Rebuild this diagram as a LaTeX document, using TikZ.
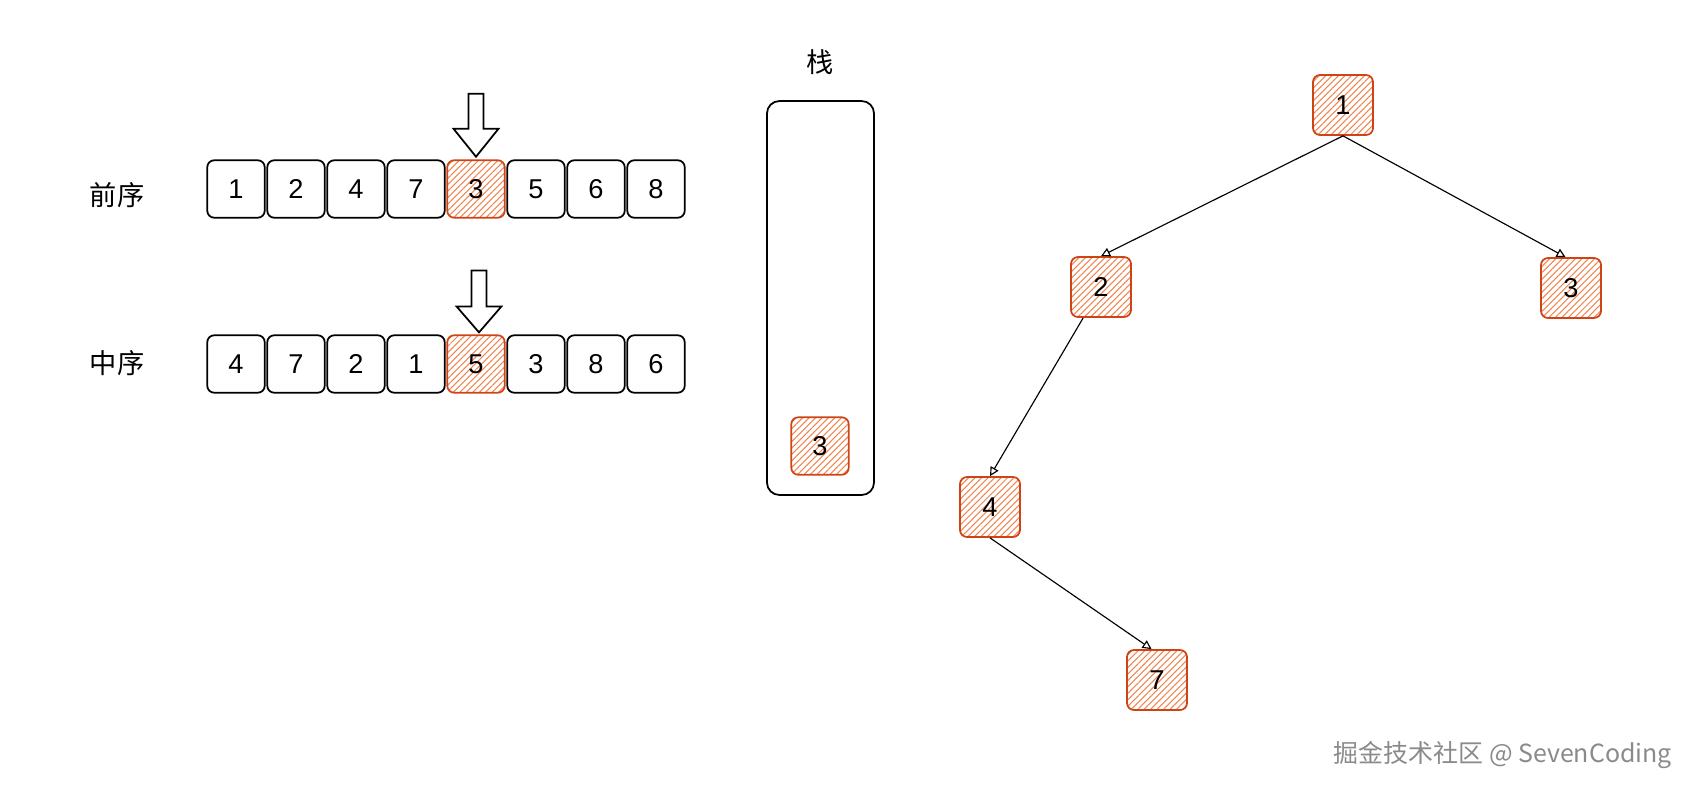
\documentclass[tikz,border=0pt]{standalone}
\usepackage{fontspec}
\setmainfont{Liberation Sans}
\newfontfamily\cjk{Noto Sans CJK SC}
\usepackage{tikz}
\usetikzlibrary{arrows.meta,positioning,calc,patterns.meta}
\definecolor{hotline}{HTML}{CF4416}
\definecolor{hatch}{HTML}{EE8550}
\definecolor{markgray}{HTML}{8A8A8A}

\begin{document}
\begin{tikzpicture}[x=0.02cm, y=-0.02cm,
  cell/.style={draw, line width=1pt, rounded corners=4pt, minimum width=1.15cm, minimum height=1.15cm, font=\fontsize{15.5}{18}\selectfont, inner sep=0pt},
  hot/.style={cell, draw=hotline, pattern={Lines[angle=45,distance=2.6pt,line width=0.6pt]}, pattern color=hatch},
  tnode/.style={hot, minimum width=1.2cm, minimum height=1.2cm},
  lbl/.style={font=\cjk\fontsize{15.5}{18}\selectfont},
  stack/.style={draw, line width=1pt, rounded corners=7pt, minimum width=2.14cm, minimum height=7.88cm},
  blk/.style={draw, line width=1pt, fill=white, line join=miter},
  edge/.style={draw, line width=0.65pt, -{Triangle[open,length=0.18cm,width=0.18cm]}}
]
\useasboundingbox (0,0) rectangle (1699,794);

% labels
\node[lbl] (pre) at (117,195) {前序};
\node[lbl] (mid) at (117,363) {中序};
\node[lbl] (stk) at (820,62) {栈};

% preorder row
\node[cell] (a1) at (236,189) {1};
\node[cell] (a2) at (296,189) {2};
\node[cell] (a3) at (356,189) {4};
\node[cell] (a4) at (416,189) {7};
\node[hot]  (a5) at (476,189) {3};
\node[cell] (a6) at (536,189) {5};
\node[cell] (a7) at (596,189) {6};
\node[cell] (a8) at (656,189) {8};

% inorder row
\node[cell] (b1) at (236,364) {4};
\node[cell] (b2) at (296,364) {7};
\node[cell] (b3) at (356,364) {2};
\node[cell] (b4) at (416,364) {1};
\node[hot]  (b5) at (476,364) {5};
\node[cell] (b6) at (536,364) {3};
\node[cell] (b7) at (596,364) {8};
\node[cell] (b8) at (656,364) {6};

% pointers
\draw[blk, shift={(a5.north)}] (0,-3) -- (-22.5,-31) -- (-7.5,-31) -- (-7.5,-66) -- (7.5,-66) -- (7.5,-31) -- (22.5,-31) -- cycle;
\draw[blk, shift={(b5.north)}] (3,-2) -- (-19.5,-28) -- (-4.5,-28) -- (-4.5,-64) -- (10.5,-64) -- (10.5,-28) -- (25.5,-28) -- cycle;

% stack
\node[stack] (st) at (820.5,298) {};
\node[hot] (s1) at (820,446) {3};

% tree
\node[tnode] (n1) at (1343,105) {1};
\node[tnode] (n2) at (1101,287) {2};
\node[tnode] (n3) at (1571,288) {3};
\node[tnode] (n4) at (990,507) {4};
\node[tnode] (n7) at (1157,680) {7};

\draw[edge] (n1.south) -- (n2.north);
\draw[edge] (n1.south) -- (n3.100);
\draw[edge] (n2.240) -- (n4.north);
\draw[edge] (n4.south) -- (n7.100);

% watermark
\node[anchor=east, text=markgray, font=\cjk\fontsize{14.2}{16}\selectfont] (wm) at (1678,755) {掘金技术社区 @ SevenCoding};
\end{tikzpicture}
\end{document}
